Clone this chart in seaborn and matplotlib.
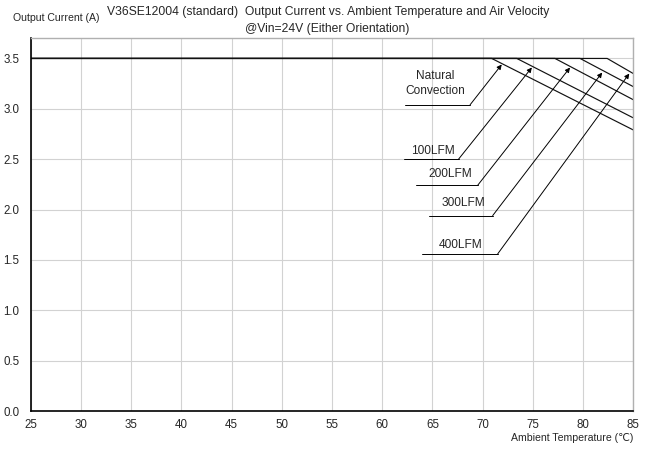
import matplotlib
matplotlib.use("Agg")
import matplotlib.pyplot as plt
from matplotlib.ticker import MultipleLocator
import seaborn as sns
import pandas as pd

# ---- data ----
series_names = ["Natural Convection", "100LFM", "200LFM", "300LFM", "400LFM"]
derate_start = [70.9, 73.4, 77.2, 79.7, 82.4]   # temperature where derating begins (°C)
end_current = [2.79, 2.91, 3.09, 3.22, 3.35]    # current at 85 °C (A)
max_current = 3.5
t_min, t_max = 25, 85

labels = ["Natural\nConvection", "100LFM", "200LFM", "300LFM", "400LFM"]
label_text_xy = [(65.3, 3.25), (65.0, 2.58), (66.8, 2.35), (68.1, 2.06), (67.8, 1.65)]
label_underline = [(62.3, 68.75, 3.04), (62.2, 67.6, 2.50), (63.4, 69.5, 2.24),
                   (64.7, 71.0, 1.94), (64.0, 71.5, 1.56)]
label_arrow_tip = [(71.9, 3.44), (74.9, 3.41), (78.7, 3.41), (81.9, 3.36), (84.6, 3.35)]

x_ticks = list(range(25, 86, 5))
y_ticks = [0.0, 0.5, 1.0, 1.5, 2.0, 2.5, 3.0, 3.5]

rows = []
for name, s, e in zip(series_names, derate_start, end_current):
    for t, c in [(t_min, max_current), (s, max_current), (t_max, e)]:
        rows.append({"series": name, "temp": t, "current": c})
df = pd.DataFrame(rows)

# ---- style ----
sns.set_theme(style="white")
plt.rcParams["font.family"] = ["Liberation Sans", "DejaVu Sans"]

fig = plt.figure(figsize=(6.45, 4.5), dpi=100)
ax = fig.add_axes([30.7 / 645, 1 - 411 / 450, (633.3 - 30.7) / 645, (411 - 38.3) / 450])

grid_c = "#d2d2d2"
ax.set_xlim(t_min, t_max)
ax.set_ylim(0, 3.7)
ax.set_xticks(x_ticks)
ax.set_yticks(y_ticks)
ax.set_xticklabels([str(v) for v in x_ticks])
ax.set_yticklabels([f"{v:.1f}" for v in y_ticks])
ax.xaxis.set_minor_locator(MultipleLocator(1))
ax.yaxis.set_minor_locator(MultipleLocator(0.1))
ax.grid(True, which="major", color=grid_c, lw=0.8)
ax.set_axisbelow(True)
ax.tick_params(axis="both", which="both", direction="in", color="black",
               labelsize=8.3, width=0.8)
ax.tick_params(axis="both", which="major", length=3.5, pad=6)
ax.tick_params(axis="both", which="minor", length=3)
ax.tick_params(axis="y", pad=8)
for side in ["left", "bottom"]:
    ax.spines[side].set_color("black")
    ax.spines[side].set_linewidth(1.2)
for side in ["top", "right"]:
    ax.spines[side].set_color("#b0b0b0")
    ax.spines[side].set_linewidth(1.0)

sns.lineplot(data=df, x="temp", y="current", hue="series", hue_order=series_names,
             palette=["#111111"] * len(series_names), legend=False, sort=False,
             estimator=None, lw=0.85, ax=ax)
ax.set_xlabel("")
ax.set_ylabel("")

# ---- annotations ----
for lab, (tx, ty), (u0, u1, uy), (ax_, ay_) in zip(labels, label_text_xy,
                                                   label_underline, label_arrow_tip):
    ax.text(tx, ty, lab, ha="center", va="center", fontsize=8.6, linespacing=1.3)
    ax.plot([u0, u1], [uy, uy], color="black", lw=0.7)
    ax.annotate("", xy=(ax_, ay_), xytext=(u1, uy),
                arrowprops=dict(arrowstyle="-|>", color="black", lw=0.7,
                                mutation_scale=7, shrinkA=0, shrinkB=0))

# ---- titles ----
fig.text(328 / 645, 1 - 12 / 450,
         "V36SE12004 (standard)  Output Current vs. Ambient Temperature and Air Velocity",
         ha="center", va="center", fontsize=8.7)
fig.text(327 / 645, 1 - 29 / 450, "@Vin=24V (Either Orientation)",
         ha="center", va="center", fontsize=8.7)
fig.text(56 / 645, 1 - 18 / 450, "Output Current (A)", ha="center", va="center",
         fontsize=7.6)
fig.text(633 / 645, 1 - 438 / 450, "Ambient Temperature (℃)", ha="right", va="center",
         fontsize=7.6)

fig.savefig("out.png", dpi=100)
